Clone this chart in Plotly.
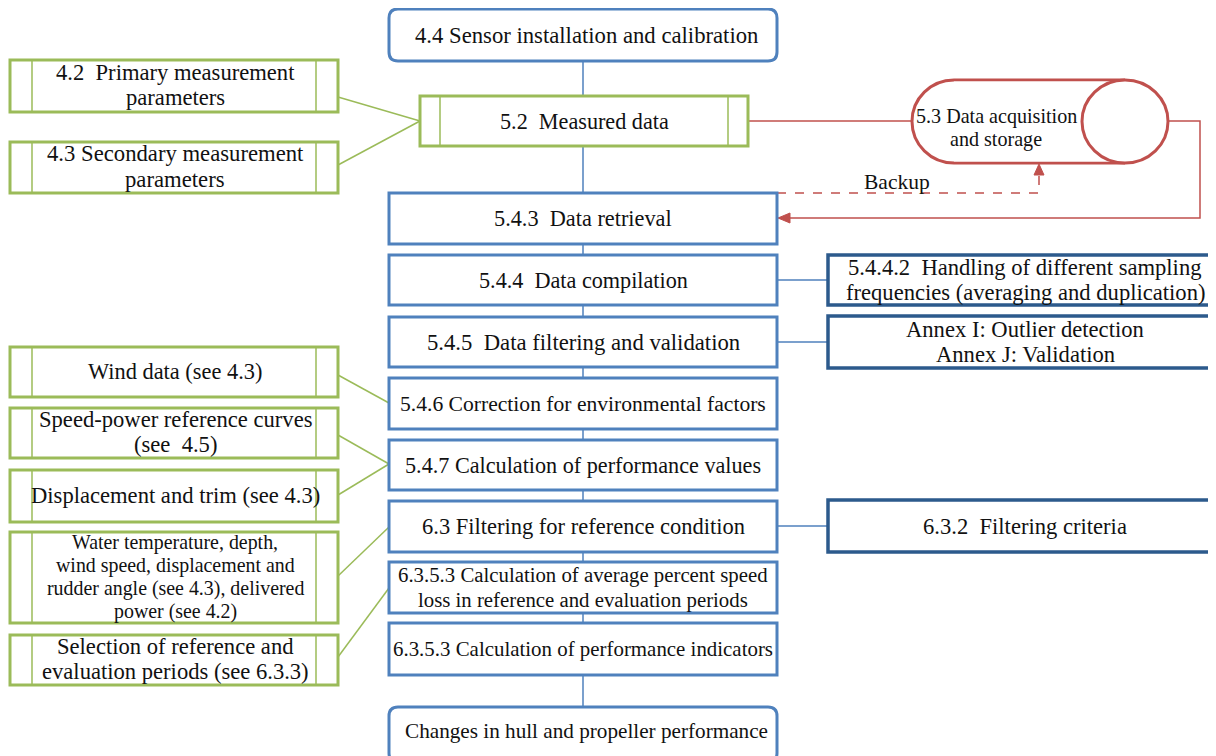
import plotly.graph_objects as go

# ---------------- data (labels) ----------------
center_labels = [
    "4.4 Sensor installation and calibration",
    "5.2  Measured data",
    "5.4.3  Data retrieval",
    "5.4.4  Data compilation",
    "5.4.5  Data filtering and validation",
    "5.4.6 Correction for environmental factors",
    "5.4.7 Calculation of performance values",
    "6.3 Filtering for reference condition",
    "6.3.5.3 Calculation of average percent speed<br>loss in reference and evaluation periods",
    "6.3.5.3 Calculation of performance indicators",
    "Changes in hull and propeller performance",
]
left_labels = [
    "4.2  Primary measurement<br>parameters",
    "4.3 Secondary measurement<br>parameters",
    "Wind data (see 4.3)",
    "Speed-power reference curves<br>(see  4.5)",
    "Displacement and trim (see 4.3)",
    "Water temperature, depth,<br>wind speed, displacement and<br>rudder angle (see 4.3), delivered<br>power (see 4.2)",
    "Selection of reference and<br>evaluation periods (see 6.3.3)",
]
right_labels = [
    "5.4.4.2  Handling of different sampling<br>frequencies (averaging and duplication)",
    "Annex I: Outlier detection<br>Annex J: Validation",
    "6.3.2  Filtering criteria",
]
storage_label = "5.3 Data acquisition<br>and storage"
backup_label = "Backup"

# ---------------- layout geometry ----------------
BLUE = "#4f81bd"
GREEN = "#9bbb59"
RED = "#c0504d"
DARK = "#2c5a8c"
FONT = "Liberation Serif"
TXT = "#111111"

# center boxes: (y0, y1, kind)
center_geo = [
    (9, 61, "round"), (96, 146, "green"), (193, 244, "rect"), (255, 305, "rect"),
    (317, 367, "rect"), (378, 429, "rect"), (440, 490, "rect"), (501, 552, "rect"),
    (562, 613, "rect"), (623, 675, "rect"), (707, 762, "round"),
]
center_fs = [22.7, 22.2, 22.3, 22.2, 22.7, 21.6, 22.2, 22.5, 20.8, 20.9, 21.2]
left_geo = [(60, 112), (142, 193), (347, 397), (408, 458), (470, 522), (532, 623), (635, 685)]
left_fs = [22.6, 22.7, 22.4, 22.6, 22.6, 19.9, 22.6]
right_geo = [(255, 305), (316, 368), (500, 552)]

shapes = []
annotations = []


def add_text(label, cx, cy, size, spacing=None):
    lines = label.split("<br>")
    n = len(lines)
    sp = spacing if spacing else size * 1.15
    for i, ln in enumerate(lines):
        y = cy + (i - (n - 1) / 2) * sp
        annotations.append(dict(x=cx, y=y, xref="x", yref="y", text=ln, showarrow=False,
                                font=dict(family=FONT, size=size, color=TXT),
                                xanchor="center", yanchor="middle"))


def line(x0, y0, x1, y1, color, width=1.5, dash=None):
    d = dict(type="line", x0=x0, y0=y0, x1=x1, y1=y1, xref="x", yref="y",
             line=dict(color=color, width=width))
    if dash:
        d["line"]["dash"] = dash
    shapes.append(d)


def rect(x0, y0, x1, y1, color, width=3):
    shapes.append(dict(type="rect", x0=x0, y0=y0, x1=x1, y1=y1, xref="x", yref="y",
                       line=dict(color=color, width=width), fillcolor="white"))


def round_rect(x0, y0, x1, y1, r, color, width=3):
    p = (f"M {x0+r},{y0} L {x1-r},{y0} Q {x1},{y0} {x1},{y0+r} L {x1},{y1-r} "
         f"Q {x1},{y1} {x1-r},{y1} L {x0+r},{y1} Q {x0},{y1} {x0},{y1-r} "
         f"L {x0},{y0+r} Q {x0},{y0} {x0+r},{y0} Z")
    shapes.append(dict(type="path", path=p, xref="x", yref="y",
                       line=dict(color=color, width=width), fillcolor="white"))


def green_box(x0, y0, x1, y1, inset):
    rect(x0, y0, x1, y1, GREEN, 3)
    line(x0 + inset, y0, x0 + inset, y1, GREEN, 1.5)
    line(x1 - inset, y0, x1 - inset, y1, GREEN, 1.5)


# ---- connectors first (behind boxes) ----
CX0, CX1 = 389, 777
CXM = 583
line(CXM, 61, CXM, 707, BLUE, 1.5)

# left green connectors
LX1 = 338
line(LX1, 97, 420, 121, GREEN, 1.5)
line(LX1, 165, 420, 121, GREEN, 1.5)
line(LX1, 375, CX0, 403, GREEN, 1.5)
line(LX1, 435, CX0, 464, GREEN, 1.5)
line(LX1, 495, CX0, 464, GREEN, 1.5)
line(LX1, 576, CX0, 527, GREEN, 1.5)
line(LX1, 657, CX0, 588, GREEN, 1.5)

# right dark connectors
for (y0, y1) in right_geo:
    line(CX1, (y0 + y1) / 2, 828, (y0 + y1) / 2, BLUE, 1.5)

# red connectors
line(748, 121, 912, 121, RED, 1.5)
shapes.append(dict(type="path", path="M 1168,121 L 1200,121 L 1200,218 L 786,218",
                   xref="x", yref="y", line=dict(color=RED, width=1.5)))
shapes.append(dict(type="path", path="M 777,193 L 1039,193 L 1039,172",
                   xref="x", yref="y", line=dict(color=RED, width=1.5, dash="dash")))
# arrowheads
shapes.append(dict(type="path", path="M 778,218 L 790,213 L 790,223 Z", xref="x", yref="y",
                   line=dict(color=RED, width=1), fillcolor=RED))
shapes.append(dict(type="path", path="M 1039,164 L 1034,175 L 1044,175 Z", xref="x", yref="y",
                   line=dict(color=RED, width=1), fillcolor=RED))

# ---- center boxes ----
for lab, (y0, y1, kind), fs in zip(center_labels, center_geo, center_fs):
    if kind == "round":
        round_rect(CX0, y0, CX1, y1, 9, BLUE, 3)
        add_text(lab, CXM + 3, (y0 + y1) / 2 if y1 < 700 else 731, fs)
    elif kind == "green":
        green_box(420, y0, 748, y1, 20)
        add_text(lab, CXM + 1, (y0 + y1) / 2, fs)
    else:
        rect(CX0, y0, CX1, y1, BLUE, 3)
        add_text(lab, CXM, (y0 + y1) / 2, fs, spacing=25)

# ---- left boxes ----
for lab, (y0, y1), fs in zip(left_labels, left_geo, left_fs):
    green_box(10, y0, LX1, y1, 22)
    add_text(lab, 175, (y0 + y1) / 2 - 1, fs, spacing=(23 if fs < 21 else 25.5))

# ---- right boxes ----
for lab, (y0, y1) in zip(right_labels, right_geo):
    rect(828, y0, 1214, y1, DARK, 3.5)
    add_text(lab, 1025, (y0 + y1) / 2, 22.6, spacing=25.5)

# ---- storage cylinder ----
k = 0.5523
lx, cy, ry, rx = 954, 121.5, 41.5, 42
p = (f"M 1125,80 L {lx},80 "
     f"C {lx-k*rx},80 {lx-rx},{cy-k*ry} {lx-rx},{cy} "
     f"C {lx-rx},{cy+k*ry} {lx-k*rx},163 {lx},163 L 1125,163")
shapes.append(dict(type="path", path=p, xref="x", yref="y",
                   line=dict(color=RED, width=3), fillcolor="white"))
shapes.append(dict(type="rect", x0=954, x1=1125, y0=81.5, y1=161.5, xref="x", yref="y",
                   line=dict(width=0), fillcolor="white"))
shapes.append(dict(type="circle", x0=1082, x1=1168, y0=80, y1=163, xref="x", yref="y",
                   line=dict(color=RED, width=3), fillcolor="white"))
add_text(storage_label, 996, 128, 20.1, spacing=23)
add_text(backup_label, 897, 182, 21.5)

# The page body has an 8px margin; the figure is sized and ranged so that
# the drawing lands on the same page pixels as the reference.
fig = go.Figure()
fig.update_layout(
    width=1208, height=748, autosize=False,
    margin=dict(l=0, r=0, t=0, b=0),
    paper_bgcolor="white", plot_bgcolor="white",
    xaxis=dict(range=[8, 1216], visible=False, fixedrange=True),
    yaxis=dict(range=[756, 8], visible=False, fixedrange=True),
    shapes=shapes, annotations=annotations, showlegend=False,
)
fig.write_html("out.html")
